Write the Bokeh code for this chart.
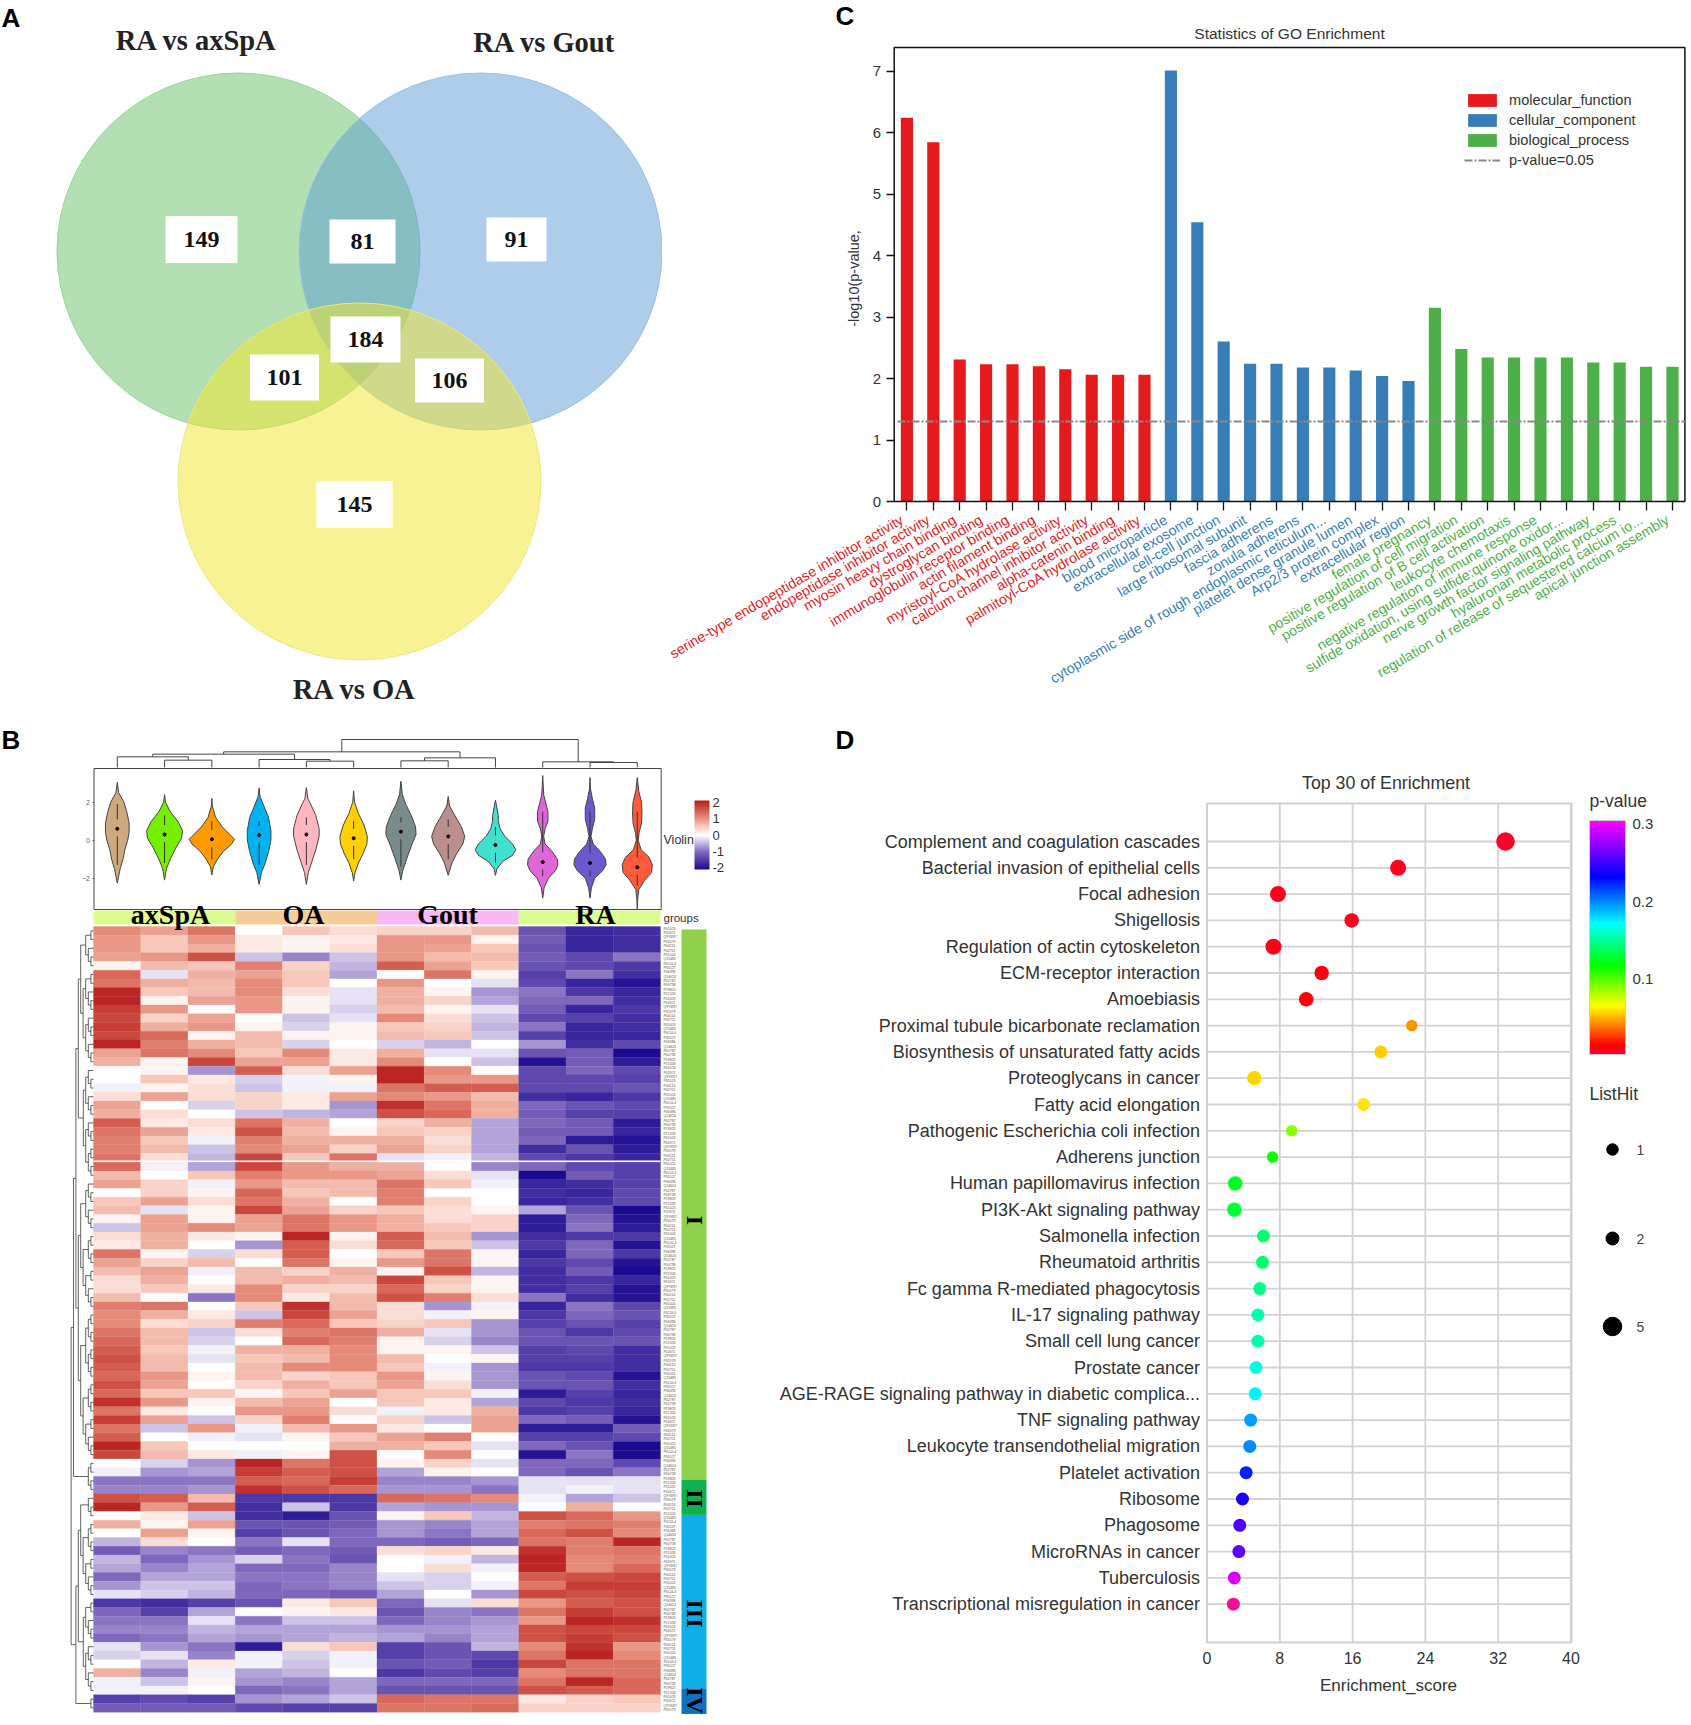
import numpy as np
from bokeh.plotting import figure
from bokeh.layouts import column, row
from bokeh.embed import file_html
from bokeh.resources import INLINE
from bokeh.core.properties import value
from bokeh.models import (Range1d, FixedTicker, ColumnDataSource, ColorBar, LinearAxis,
                          LinearColorMapper, Legend, LegendItem)
from bokeh.transform import transform

# ---------- Panel A data ----------
venn_names = ["RA vs axSpA", "RA vs Gout", "RA vs OA"]
venn_counts = [149, 81, 91, 184, 101, 106, 145]

# ---------- Panel B data ----------
sample_groups = ["axSpA", "OA", "Gout", "RA"]
group_colors = ["#dcfb90", "#f6cd98", "#f9b8f6", "#dcfb90"]
violin_colors = ["#cdaa7d", "#76ee00", "#ff9a00", "#00b2ee", "#ffb6c1", "#ffd000",
                 "#7a8b8b", "#bc8f8f", "#40e0d0", "#df66d8", "#6a5acd", "#ff5a3c"]
violin_profiles = [
    [(3.05, 0), (2.5, .03), (2.0, .14), (1.5, .2), (.9, .25), (.4, .25), (0, .22), (-.5, .16), (-1, .12), (-1.5, .06), (-2.26, 0)],
    [(2.4, 0), (2.0, .02), (1.5, .12), (1.0, .28), (.5, .38), (.1, .36), (-.4, .24), (-1, .12), (-1.5, .04), (-2.1, 0)],
    [(2.2, 0), (1.8, .01), (1.2, .08), (.7, .22), (.3, .38), (.05, .48), (-.2, .42), (-.6, .24), (-1.0, .12), (-1.4, .03), (-1.83, 0)],
    [(2.75, 0), (2.3, .02), (1.8, .1), (1.2, .2), (.5, .25), (0, .25), (-.6, .2), (-1.2, .13), (-1.7, .05), (-2.33, 0)],
    [(2.77, 0), (2.2, .03), (1.9, .09), (1.3, .2), (.6, .27), (.2, .27), (-.5, .2), (-1.1, .12), (-1.7, .04), (-2.33, 0)],
    [(2.6, 0), (2.0, .02), (1.4, .1), (.8, .22), (.2, .29), (-.2, .28), (-.7, .2), (-1.2, .1), (-1.7, .03), (-2.15, 0)],
    [(3.1, 0), (2.4, .03), (1.9, .1), (1.3, .22), (.7, .31), (.3, .32), (-.3, .22), (-1, .12), (-1.6, .04), (-2.1, 0)],
    [(2.3, 0), (1.8, .03), (1.3, .14), (.7, .28), (.2, .35), (-.2, .31), (-.7, .18), (-1.2, .08), (-1.85, 0)],
    [(2.1, 0), (1.7, .03), (1.3, .06), (1.0, .06), (.6, .1), (.2, .2), (-.2, .36), (-.5, .43), (-.8, .36), (-1.1, .16), (-1.5, .03), (-1.85, 0)],
    [(3.4, 0), (2.4, .02), (2, .06), (1.5, .11), (1, .11), (.6, .05), (.2, .02), (-.2, .05), (-.6, .2), (-1, .31), (-1.3, .32), (-1.6, .27), (-2, .12), (-2.5, .03), (-3.05, 0)],
    [(3.3, 0), (2.7, .01), (2.2, .05), (1.7, .1), (1.1, .1), (.6, .05), (.2, .02), (-.2, .07), (-.6, .22), (-1, .33), (-1.3, .34), (-1.6, .27), (-2, .1), (-2.5, .03), (-3.05, 0)],
    [(3.3, 0), (2.6, .03), (2.0, .09), (1.5, .1), (.9, .09), (.4, .04), (0, .02), (-.5, .08), (-.9, .25), (-1.3, .32), (-1.7, .3), (-2.1, .16), (-2.6, .03), (-3.1, .01), (-3.65, 0)],
]
violin_means = [.6, .3, .05, .27, .3, .1, .45, .2, -.25, -1.15, -1.2, -1.42]
violin_hi = [1.9, 1.3, 1.0, 1.0, 1.2, 1.0, 1.2, 1.1, .7, 1.5, 1.5, 1.5]
violin_lo = [-1.3, -1.2, -1.0, -1.3, -1.3, -1.0, -1.4, -1.0, -1.2, -1.9, -1.9, -2.4]
# (left, right, height); ids >= 12 refer to earlier merges
col_merges = [(1, 2, 22), (0, 12, 32), (4, 5, 19), (3, 14, 24), (13, 15, 40), (6, 7, 20),
              (17, 8, 29), (16, 18, 47), (10, 11, 15), (9, 20, 17), (19, 21, 84)]
heat_rows = [
    [1.0, 0.8, 1.2, 0.0, 0.5, 0.3, 0.4, 0.4, 0.6, -1.2, -1.7, -1.6],
    [0.9, 0.5, 0.9, 0.2, 0.1, 0.2, 0.9, 0.9, 0.1, -1.1, -1.7, -1.6],
    [0.9, 0.5, 0.7, 0.2, 0.1, 0.3, 0.9, 0.8, 0.5, -1.2, -1.7, -1.6],
    [0.8, 0.9, 1.5, -0.4, -0.8, -0.4, 0.9, 0.6, 0.6, -1.1, -1.3, -0.9],
    [0.1, 0.6, 0.5, 1.1, 0.4, -0.5, 1.4, 0.8, 0.5, -1.2, -1.3, -1.5],
    [1.3, -0.2, 0.7, 0.8, 0.5, -0.6, 0.0, 1.2, 0.1, -1.4, -0.9, -1.6],
    [1.2, 0.7, 0.6, 1.0, 0.5, 0.0, 0.9, 0.0, -0.2, -1.3, -1.7, -1.9],
    [1.9, 0.5, 0.6, 1.0, 0.3, -0.2, 0.7, 0.1, -0.7, -0.9, -1.5, -1.7],
    [1.9, 0.1, 0.8, 0.9, 0.1, -0.2, 0.7, 0.4, -0.6, -1.0, -1.0, -1.6],
    [1.7, 0.9, 0.0, 0.9, 0.1, -0.3, 0.6, 0.1, -0.2, -1.1, -1.7, -1.5],
    [1.6, 0.4, 0.8, 0.0, -0.4, -0.2, 1.0, 0.3, -0.4, -1.3, -1.4, -1.6],
    [1.7, 0.7, 0.9, 0.1, -0.3, 0.1, 0.5, 0.4, -0.5, -0.9, -1.7, -1.6],
    [1.6, 1.3, 0.1, 0.6, 0.1, 0.1, 0.6, 0.5, -0.4, -1.4, -1.7, -1.7],
    [1.9, 1.1, 0.7, 0.6, -0.3, 0.0, -0.3, -0.5, 0.0, -0.7, -1.6, -1.3],
    [0.8, 1.2, 1.0, 0.5, 1.0, 0.2, 0.7, -0.2, -0.2, -1.2, -1.1, -2.0],
    [0.7, 0.1, 1.6, 0.8, 0.8, 0.2, 1.0, 0.0, -0.4, -1.9, -1.1, -1.8],
    [0.0, 0.1, -0.7, 1.4, 0.3, 0.8, 1.9, 1.0, 0.0, -1.3, -1.0, -1.3],
    [0.0, 0.5, 0.2, -0.3, -0.1, 0.1, 1.9, 0.9, 0.9, -1.3, -1.3, -1.4],
    [-0.1, 0.1, 0.3, -0.4, -0.1, -0.1, 1.2, 1.4, 1.4, -1.3, -1.3, -1.2],
    [0.3, 0.8, 0.3, 0.4, 0.2, 0.8, 1.0, 0.9, 0.6, -1.6, -1.7, -1.5],
    [0.8, 0.0, -0.3, 0.4, 0.2, -0.7, 1.8, 1.2, 0.7, -1.0, -1.2, -1.3],
    [0.7, 0.3, 0.0, -0.4, -0.5, -0.6, 1.5, 1.3, 0.7, -1.1, -1.4, -1.4],
    [1.4, 0.2, 0.3, 1.2, 0.7, 0.0, 0.4, 0.7, -0.6, -1.0, -1.1, -1.8],
    [1.2, 0.8, 0.2, 1.5, 0.6, 0.1, 0.5, 0.4, -0.6, -1.1, -1.1, -1.7],
    [1.1, 0.5, -0.1, 1.1, 0.7, 0.7, 0.7, 0.3, -0.6, -1.0, -1.8, -1.9],
    [1.1, 0.6, -0.4, 1.0, 0.8, 0.4, 0.8, 0.4, -0.6, -1.6, -1.2, -1.8],
    [1.2, 0.3, -0.5, 1.6, 0.5, 1.2, -0.2, -0.1, -0.5, -1.3, -1.5, -1.7],
    [1.3, -0.1, -0.6, 1.6, 0.9, 0.7, 0.7, 0.0, -0.8, -1.0, -1.3, -1.4],
    [0.6, 0.0, 0.5, 1.1, 0.9, 0.9, 0.8, 0.3, -0.2, -2.0, -1.1, -1.4],
    [0.8, 0.4, -0.1, 0.9, 0.6, 0.6, 1.2, 0.5, -0.1, -1.7, -1.6, -1.4],
    [0.0, 0.4, 0.1, 1.3, 0.5, 0.6, 1.1, 0.0, 0.0, -1.6, -1.7, -1.3],
    [0.5, 0.8, 0.3, 1.2, 0.7, 0.0, 1.1, 0.4, 0.0, -1.7, -1.6, -1.3],
    [0.6, -0.2, 0.1, 1.6, 0.8, 0.4, 0.5, 0.3, 0.1, -0.6, -1.2, -2.0],
    [0.1, 0.8, 0.1, 0.8, 1.2, 0.9, 0.7, 0.3, 0.4, -1.8, -1.0, -1.9],
    [-0.4, 0.8, 1.0, 0.8, 1.2, 0.9, 0.7, 0.5, 0.4, -1.8, -0.9, -1.8],
    [0.3, 0.7, 0.2, 0.1, 1.9, 0.1, 1.4, 0.6, -0.7, -1.6, -1.5, -1.5],
    [0.2, 0.7, 0.0, -0.7, 1.4, 0.3, 1.3, 0.5, -0.4, -1.5, -1.0, -1.9],
    [1.2, 0.1, -0.3, 0.3, 1.4, 0.0, 0.5, 1.2, 0.1, -1.7, -1.0, -1.5],
    [0.8, 0.4, 0.6, 0.0, 1.2, 0.1, 0.9, 1.2, 0.1, -1.5, -1.3, -1.9],
    [0.6, 0.8, -0.1, 0.6, 0.4, 0.7, 0.1, 1.5, -0.5, -1.6, -1.1, -2.0],
    [0.3, 0.7, 0.0, 0.6, 0.7, 0.6, 1.6, 0.5, 0.1, -1.6, -1.5, -1.7],
    [0.3, 0.5, 0.2, 1.0, 0.4, 0.4, 1.3, 0.4, 0.1, -1.6, -1.4, -1.9],
    [0.6, 0.0, -0.9, 1.0, 0.2, 0.6, 1.5, 1.1, 0.3, -0.9, -1.6, -1.9],
    [1.1, 1.2, 0.0, 0.5, 1.8, 0.6, 0.3, -0.7, -0.1, -1.7, -0.9, -1.3],
    [1.0, 0.7, 0.2, -0.4, 1.6, 0.8, 0.3, -0.1, 0.1, -1.5, -1.0, -1.2],
    [1.0, 0.3, 0.4, 1.1, 1.3, 0.5, 0.4, 0.5, -0.7, -1.4, -1.2, -1.4],
    [1.2, 0.6, -0.4, 0.3, 1.1, 1.2, 0.7, -0.2, -0.7, -1.2, -1.5, -1.3],
    [1.3, 0.6, -0.3, 0.0, 1.3, 1.1, 0.1, -0.3, -0.8, -1.2, -1.2, -1.2],
    [1.4, 0.5, -0.1, 0.7, 0.7, 1.0, 0.1, 0.1, -0.4, -1.4, -1.3, -1.6],
    [1.5, 0.6, -0.2, 0.5, 0.6, 1.0, 0.6, 0.0, 0.1, -1.4, -1.4, -1.6],
    [1.4, 0.6, 0.0, 0.6, 1.0, 1.0, 0.5, -0.1, -0.7, -1.5, -1.5, -1.6],
    [1.3, 0.9, 0.1, 0.6, 0.4, 0.5, 0.9, 0.1, -0.7, -1.2, -1.3, -1.9],
    [1.5, 0.8, 0.0, 0.4, 0.7, 0.5, 0.8, 0.3, -0.7, -1.2, -1.2, -1.6],
    [1.3, 0.5, 0.5, 0.1, 0.5, 0.8, 0.5, 0.5, -0.1, -1.8, -1.4, -1.7],
    [1.8, 0.9, 0.1, 0.6, 0.8, 0.0, 0.5, 0.2, -0.6, -1.3, -1.5, -1.6],
    [1.2, 0.2, 0.0, 0.9, 0.9, 0.3, -0.1, 0.2, 0.7, -1.5, -1.4, -1.7],
    [1.7, 0.8, -0.4, 0.4, 1.1, 0.0, 0.4, -0.4, 0.8, -1.0, -1.1, -1.9],
    [1.2, -0.4, 0.9, -0.1, 0.6, 0.9, 0.2, 0.0, 0.8, -1.8, -1.8, -1.1],
    [1.4, 0.0, -0.1, -0.2, 0.1, 0.5, 0.8, 1.1, 0.0, -1.4, -1.4, -1.3],
    [1.9, 0.5, 0.0, 0.0, 0.0, 0.7, 0.7, 0.5, -0.2, -1.0, -1.2, -2.0],
    [1.6, 0.6, 0.2, -0.1, 0.1, 1.5, 0.0, 1.0, 0.0, -1.9, -0.9, -2.0],
    [0.0, -0.3, -0.7, 1.9, 1.2, 1.5, 0.1, 0.4, -0.2, -1.0, -1.0, -1.3],
    [-0.1, -0.7, -0.6, 1.7, 1.4, 1.5, -0.6, 0.1, 0.0, -1.0, -1.2, -0.9],
    [-0.9, -0.9, -0.9, 1.4, 1.3, 1.7, -0.8, -0.8, -0.7, -0.2, -0.2, -0.2],
    [-0.8, -0.8, -0.7, 1.8, 1.5, 1.3, -0.7, -0.7, -0.9, -0.2, -0.1, -0.2],
    [1.5, 1.4, 0.6, -1.5, -1.5, -1.5, 1.3, 1.2, 1.0, -0.1, -0.6, -0.4],
    [1.9, 0.9, 1.4, -1.6, -0.4, -1.5, -0.6, -0.7, -0.7, 0.0, 0.7, 0.0],
    [0.0, 0.2, -0.4, -1.6, -1.8, -1.2, 0.1, 0.5, -0.5, 1.5, 1.3, 0.9],
    [0.7, 0.1, 0.8, -1.2, -1.2, -1.1, -0.7, -0.8, -0.6, 1.1, 1.2, 1.1],
    [0.0, 0.8, 0.1, -1.4, -1.2, -1.0, -0.7, -0.9, -0.6, 1.3, 1.5, 1.0],
    [-0.5, 0.3, 0.0, -0.9, -0.2, -1.0, -1.0, -1.1, -1.0, 1.2, 1.1, 1.9],
    [-1.1, -0.8, -0.9, -1.1, -1.0, -1.1, 0.3, 0.4, 0.2, 1.8, 1.1, 1.2],
    [-0.5, -1.0, -0.7, -0.3, -0.9, -1.2, 0.0, -0.1, -0.5, 1.9, 1.0, 1.1],
    [-0.6, -0.8, -0.6, -1.0, -1.0, -0.8, 0.0, 0.3, -0.1, 1.9, 1.0, 1.3],
    [-1.0, -0.6, -0.6, -0.9, -0.9, -0.8, -0.2, -0.3, 0.0, 1.4, 1.5, 1.6],
    [-0.7, -0.4, -0.4, -1.0, -0.9, -0.8, -0.4, -0.3, -0.1, 1.2, 1.7, 1.7],
    [-0.2, -0.3, -0.5, -1.0, -1.0, -1.1, -0.6, 0.0, -0.7, 1.6, 1.5, 1.6],
    [-1.5, -1.6, -1.4, -1.2, 0.2, 0.5, -1.0, -0.2, 0.3, 0.9, 1.4, 1.5],
    [-1.0, -1.4, -0.6, 0.0, 0.1, 0.2, -1.2, -0.8, -0.9, 1.2, 1.7, 1.5],
    [-0.9, -0.9, -0.2, -0.9, -0.4, -0.4, -1.0, -0.8, -0.7, 0.9, 1.9, 1.8],
    [-0.8, -0.8, -0.5, -0.6, -0.6, -0.6, -0.7, -0.7, -0.6, 1.5, 1.6, 1.6],
    [-1.0, -0.9, -0.6, -0.7, -0.6, -0.5, -0.6, -0.8, -0.6, 1.5, 1.7, 1.5],
    [-0.2, -0.7, -0.9, -1.8, 0.3, 0.5, -1.4, -1.2, -0.5, 1.0, 1.8, 0.9],
    [-0.3, -0.2, -0.8, -0.1, -0.3, -0.1, -1.4, -1.2, -1.3, 1.2, 1.9, 1.0],
    [0.0, -0.5, 0.2, -0.1, -0.4, -0.1, -1.2, -1.1, -1.5, 1.6, 1.2, 1.2],
    [0.7, -0.8, -0.1, -0.6, -0.5, 0.0, -1.5, -1.3, -1.4, 1.0, 1.2, 1.2],
    [-0.1, -0.4, 0.1, -0.7, -0.8, -0.6, -1.0, -1.0, -1.0, 1.2, 1.9, 1.3],
    [-0.1, -0.1, 0.0, -1.0, -0.9, -0.6, -1.2, -1.2, -1.2, 1.5, 1.4, 1.3],
    [-1.4, -1.3, -1.4, -0.7, -0.6, -0.4, 1.3, 1.2, 1.2, 0.2, 0.4, 0.5],
    [-1.1, -1.1, -1.1, -1.3, -1.4, -1.4, 1.2, 1.2, 1.3, 0.4, 0.4, 0.4],
]
row_ids = ["P01023", "P02671", "Q9Y6R7", "P35579", "P04114", "P02751", "P01024", "Q15485",
           "P0C0L4", "P35527", "P06396", "Q14624", "P02787", "P00738", "P19823", "P21333"]
cluster_names = ["I", "II", "III", "IV"]
cluster_spans = [(0.35, 63.35), (63.35, 67.4), (67.4, 87.3), (87.3, 90.2)]
cluster_colors = ["#8fd14b", "#12ae52", "#0daeea", "#1070c2"]
row_tree = (((((5, 11), (6, 7)), ((6, 9), (8, 9))), 4), (((3, 9), (5, 6)), 2))

# ---------- Panel C data ----------
go_terms = ["serine-type endopeptidase inhibitor activity", "endopeptidase inhibitor activity",
            "myosin heavy chain binding", "dystroglycan binding", "immunoglobulin receptor binding",
            "actin filament binding", "myristoyl-CoA hydrolase activity", "calcium channel inhibitor activity",
            "alpha-catenin binding", "palmitoyl-CoA hydrolase activity",
            "blood microparticle", "extracellular exosome", "cell-cell junction", "large ribosomal subunit",
            "fascia adherens", "zonula adherens", "cytoplasmic side of rough endoplasmic reticulum...",
            "platelet dense granule lumen", "Arp2/3 protein complex", "extracellular region",
            "female pregnancy", "positive regulation of cell migration", "positive regulation of B cell activation",
            "leukocyte chemotaxis", "negative regulation of immune response",
            "sulfide oxidation, using sulfide:quinone oxidor...", "nerve growth factor signaling pathway",
            "hyaluronan metabolic process", "regulation of release of sequestered calcium io...",
            "apical junction assembly"]
go_values = [6.24, 5.84, 2.31, 2.23, 2.23, 2.2, 2.15, 2.06, 2.06, 2.06,
             7.01, 4.54, 2.6, 2.24, 2.24, 2.18, 2.18, 2.13, 2.04, 1.96,
             3.15, 2.48, 2.34, 2.34, 2.34, 2.34, 2.26, 2.26, 2.19, 2.19]
go_classes = ["molecular_function", "cellular_component", "biological_process"]
go_class_colors = ["#e41a1c", "#377eb8", "#4daf4a"]
go_threshold = 1.3

# ---------- Panel D data ----------
pathways = ["Complement and coagulation cascades", "Bacterial invasion of epithelial cells", "Focal adhesion",
            "Shigellosis", "Regulation of actin cytoskeleton", "ECM-receptor interaction", "Amoebiasis",
            "Proximal tubule bicarbonate reclamation", "Biosynthesis of unsaturated fatty acids",
            "Proteoglycans in cancer", "Fatty acid elongation", "Pathogenic Escherichia coli infection",
            "Adherens junction", "Human papillomavirus infection", "PI3K-Akt signaling pathway",
            "Salmonella infection", "Rheumatoid arthritis", "Fc gamma R-mediated phagocytosis",
            "IL-17 signaling pathway", "Small cell lung cancer", "Prostate cancer",
            "AGE-RAGE signaling pathway in diabetic complica...", "TNF signaling pathway",
            "Leukocyte transendothelial migration", "Platelet activation", "Ribosome", "Phagosome",
            "MicroRNAs in cancer", "Tuberculosis", "Transcriptional misregulation in cancer"]
enrich = [32.8, 21.0, 7.8, 15.9, 7.3, 12.6, 10.9, 22.5, 19.1, 5.2, 17.2, 9.3, 7.2, 3.1, 3.0,
          6.2, 6.1, 5.8, 5.6, 5.6, 5.4, 5.3, 4.8, 4.7, 4.3, 3.9, 3.6, 3.5, 3.0, 2.9]
pvals = [.006, .008, .010, .010, .010, .012, .013, .045, .055, .057, .06, .09, .115, .125, .13,
         .14, .142, .148, .155, .155, .165, .175, .195, .2, .225, .24, .255, .26, .295, .32]
listhit = [5, 4, 4, 3, 4, 3, 3, 1, 2, 3, 2, 1, 1, 3, 3, 2, 2, 2, 2, 2, 2, 2, 2, 2, 2, 2, 2, 2, 2, 2]
hit_legend = [1, 2, 5]
enrich_ticks = [0, 8, 16, 24, 32, 40]


def make_palette(anchors, n=256):
    pos = np.array([a[0] for a in anchors], float)
    rgb = np.array([[int(a[1][i:i + 2], 16) for i in (1, 3, 5)] for a in anchors], float)
    t = np.linspace(pos[0], pos[-1], n)
    cols = np.stack([np.interp(t, pos, rgb[:, k]) for k in range(3)], 1).round().astype(int)
    return ["#%02x%02x%02x" % tuple(c) for c in cols]


def make_fig(w, h, xr, yr, **kw):
    p = figure(width=w, height=h, min_border=0, x_range=Range1d(*xr), y_range=Range1d(*yr),
               toolbar_location=None, tools="", output_backend="svg", frame_align=False, **kw)
    p.grid.visible = False
    p.outline_line_color = None
    return p


SANS, SERIF = "Liberation Sans", "Liberation Serif"


def put_text(p, x, y, txt, size, font=SANS, style="normal", color="#333333", align="left", angle=0.0):
    p.text(x=[x], y=[y], text=[txt], text_font=value(font), text_font_style=style, text_font_size=size,
           text_color=color, text_align=align, text_baseline="middle", angle=angle)


# ================= Panel A =================
pa = make_fig(662, 725, (0, 662), (725, 0), x_axis_location=None, y_axis_location=None)
circle_cx, circle_cy = [238, 480, 359], [251, 251, 481]
for cx, cy, c, lc in zip(circle_cx, circle_cy, ["#66c166", "#5b9bd5", "#f4e62a"], ["#9fd09f", "#9cc0e2", "#efe680"]):
    pa.ellipse(x=[cx], y=[cy], width=363, height=357, fill_color=c, fill_alpha=0.5, line_color=lc, line_width=1)
box_x, box_y = [201, 362, 516, 365, 284, 449, 354], [239, 241, 239, 339, 377, 380, 504]
box_w, box_h = [72, 66, 60, 70, 69, 69, 76], [47, 44, 44, 46, 46, 44, 47]
pa.rect(x=box_x, y=box_y, width=box_w, height=box_h, fill_color="white", line_color=None)
pa.text(x=box_x, y=box_y, text=[str(v) for v in venn_counts], text_align="center", text_baseline="middle",
        text_font=value(SERIF), text_font_style="bold", text_font_size="24px", text_color="#111111")
pa.text(x=[196, 544, 354], y=[40, 42, 689], text=venn_names, text_align="center", text_baseline="middle",
        text_font=value(SERIF), text_font_style="bold", text_font_size="28.5px", text_color="#222222")
put_text(pa, 1, 17, "A", "26px", style="bold", color="black")

# ================= Panel B =================
cw2, rh = 47.25, 8.73
hx = lambda px: (px - 93) / cw2
hy = lambda py: (py - 926) / rh
vcx = lambda i: hx(116.8 + 47.27 * i)      # violin index -> column units
ph = make_fig(770, 992, (hx(0), hx(770)), (hy(1717), hy(725)), x_axis_location=None, y_axis_location=None)
ph.extra_y_ranges = {"v": Range1d((839.7 - 1717) / 19, (839.7 - 725) / 19)}
# dendrogram over the violins
nodes = {i: (float(i), 0.0) for i in range(12)}
dx, dy = [], []
for k, (l, r, h) in enumerate(col_merges):
    (xl, hl), (xr_, hr) = nodes[l], nodes[r]
    dx.append([vcx(xl), vcx(xl), vcx(xr_), vcx(xr_)])
    dy.append([hy(767 - hl / 3), hy(767 - h / 3), hy(767 - h / 3), hy(767 - hr / 3)])
    nodes[12 + k] = ((xl + xr_) / 2, float(h))
ph.multi_line(xs=dx, ys=dy, line_color="#444444", line_width=1)
put_text(ph, hx(1), hy(739), "B", "26px", style="bold", color="black")
# violin box
ph.quad(left=[hx(93.5)], right=[hx(660.7)], top=[hy(768)], bottom=[hy(909)], fill_color=None, line_color="#444444", line_width=1)
vaxis = LinearAxis(y_range_name="v", fixed_location=hx(93.5), ticker=FixedTicker(ticks=[-2, 0, 2]),
                   major_label_text_font_size="7px", major_label_text_color="#666666", axis_line_color=None,
                   major_tick_line_color="#666666", major_tick_out=2, major_tick_in=0, minor_tick_line_color=None,
                   major_label_standoff=2)
ph.add_layout(vaxis, "left")
for i, prof in enumerate(violin_profiles):
    ys = [q[0] for q in prof]
    ws = [q[1] for q in prof]
    px = [vcx(i + w) for w in ws] + [vcx(i - w) for w in ws[::-1]]
    py = ys + ys[::-1]
    ph.patch(px, py, y_range_name="v", fill_color=violin_colors[i], line_color="#444444", line_width=1)
    ph.segment(x0=[vcx(i)] * 2, y0=[violin_means[i] + .5, violin_means[i] - .4], x1=[vcx(i)] * 2,
               y1=[violin_hi[i], violin_lo[i]], y_range_name="v", line_color="#333333", line_width=1)
ph.scatter(x=[vcx(i) for i in range(12)], y=violin_means, y_range_name="v", size=3, color="black")

heat_pal = make_palette([(-2, "#1c0a90"), (-1, "#7e66bb"), (-.5, "#c0b4e0"), (0, "#ffffff"),
                         (.5, "#f7c8ba"), (1, "#e58b7a"), (1.5, "#cf5346"), (2, "#b61c1c")])
heat_map = LinearColorMapper(palette=heat_pal, low=-2, high=2)
legend_map = LinearColorMapper(palette=heat_pal, low=-2.1, high=2.1)
cbv = ColorBar(color_mapper=legend_map, location=(694, 848), width=15, height=69,
               ticker=FixedTicker(ticks=[-2, -1, 0, 1, 2]), major_tick_line_color=None, bar_line_color=None,
               major_label_overrides={-2: "-2", -1: "-1"},
               major_label_text_font=SANS, major_label_text_font_size="13px", major_label_text_color="#333333",
               label_standoff=3, padding=0, background_fill_color=None, border_line_color=None, margin=0)
ph.add_layout(cbv)
put_text(ph, hx(663), hy(839), "Violin", "12.5px")

nrows = len(heat_rows)
xx, yy, vv = [], [], []
for r, vals in enumerate(heat_rows):
    for c, v in enumerate(vals):
        xx.append(c + .5)
        yy.append(r + .5)
        vv.append(v)
hsrc = ColumnDataSource(dict(x=xx, y=yy, v=vv))
ph.rect("x", "y", width=1, height=1, source=hsrc, fill_color=transform("v", heat_map),
        line_color=transform("v", heat_map), line_width=0.3)
ph.segment(x0=[0], x1=[12], y0=[hy(1160.7)], y1=[hy(1160.7)], line_color="white", line_width=1.4)
# annotation strip
ph.quad(left=[0, 3, 6, 9], right=[3, 6, 9, 12], top=[hy(910)] * 4, bottom=[hy(924)] * 4,
        fill_color=group_colors, line_color=None)
ph.text(x=[hx(170), hx(303), hx(447), hx(595)], y=[hy(914)] * 4, text=sample_groups, text_align="center",
        text_baseline="middle", text_font=value(SERIF), text_font_style="bold", text_font_size="28px", text_color="black")
put_text(ph, hx(663), hy(917), "groups", "11.5px")
# gene labels
lab_y = [i / 2 + .25 for i in range(nrows * 2)]
lab_t = [row_ids[i % len(row_ids)] for i in range(nrows * 2)]
ph.text(x=[hx(663)] * len(lab_y), y=lab_y, text=lab_t, text_baseline="middle", text_font=value(SANS),
        text_font_size="3.5px", text_color="#555555")
# cluster bar
ph.quad(left=[hx(681)] * 4, right=[hx(706)] * 4, top=[s[0] for s in cluster_spans], bottom=[s[1] for s in cluster_spans],
        fill_color=cluster_colors, line_color=None)
ph.text(x=[hx(694)] * 4, y=[hy(1220), hy(1498), hy(1613), hy(1700)], text=cluster_names, angle=-np.pi / 2,
        text_align="center", text_baseline="middle", text_font=value(SERIF), text_font_style="bold",
        text_font_size="24px", text_color="black")
# row dendrogram
rx, ry = [], []


def ladder(y0, n):
    if n == 1:
        return y0 + .5, 93.0
    a = n // 2
    ya, xa = ladder(y0, a)
    yb, xb = ladder(y0 + a, n - a)
    x = min(xa, xb) - 2.6
    rx.append([hx(xa), hx(x), hx(x), hx(xb)])
    ry.append([ya, ya, yb, yb])
    return (ya + yb) / 2, x


cursor = [0]


def walk(node):
    if isinstance(node, int):
        y, x = ladder(cursor[0], node)
        cursor[0] += node
        return y, x
    ya, xa = walk(node[0])
    yb, xb = walk(node[1])
    x = min(xa, xb) - 2.4
    rx.append([hx(xa), hx(x), hx(x), hx(xb)])
    ry.append([ya, ya, yb, yb])
    return (ya + yb) / 2, x


walk(row_tree)
ph.multi_line(xs=rx, ys=ry, line_color="#3a3a3a", line_width=0.8)

# ================= Panel C =================
xc = lambda px: (px - 906.4) / 26.4
yc = lambda py: (501 - py) / 61.5
pc = make_fig(1029, 725, (xc(662), xc(1691)), (yc(725), yc(0)))
pc.xaxis.fixed_location = 0
pc.yaxis.fixed_location = xc(893.7)
pc.xaxis.ticker = FixedTicker(ticks=list(range(30)))
pc.xaxis.major_label_overrides = {i: "" for i in range(30)}
pc.yaxis.ticker = FixedTicker(ticks=list(range(8)))
for ax, out in ((pc.xaxis, 9), (pc.yaxis, 8)):
    ax.axis_line_color = None
    ax.major_tick_line_color = "#111111"
    ax.major_tick_line_width = 1.3
    ax.major_tick_out, ax.major_tick_in = out, 0
    ax.minor_tick_line_color = None
pc.yaxis.major_label_text_font = SANS
pc.yaxis.major_label_text_font_size = "15px"
pc.yaxis.major_label_text_color = "#333333"
items = []
for k, (name, col) in enumerate(zip(go_classes, go_class_colors)):
    idx = list(range(k * 10, k * 10 + 10))
    r = pc.vbar(x=idx, top=[go_values[i] for i in idx], width=0.46, fill_color=col, line_color=None)
    items.append(LegendItem(label=name, renderers=[r]))
pc.quad(left=[xc(893.7)], right=[xc(1684.4)], top=[yc(47)], bottom=[0], fill_color=None, line_color="#111111", line_width=1.5)
ln = pc.line(x=[xc(897), xc(1684.4)], y=[go_threshold] * 2, line_color="#888888", line_width=2, line_dash="8 2 2 2")
items.append(LegendItem(label="p-value=0.05", renderers=[ln]))
leg = Legend(items=items, location=(802, 557), border_line_color=None, background_fill_color=None,
             background_fill_alpha=0, label_text_font=SANS, label_text_font_size="14.6px", label_text_color="#333333",
             glyph_width=36, glyph_height=16, label_height=16, spacing=4, label_standoff=9, padding=0, margin=0)
pc.add_layout(leg, "center")
pc.text(x=list(range(30)), y=[0] * 30, text=go_terms, text_color=[go_class_colors[i // 10] for i in range(30)],
        angle=30.5, angle_units="deg", text_align="right", text_baseline="middle", y_offset=17, x_offset=-5,
        text_font=value(SANS), text_font_size="14.2px")
put_text(pc, xc(1289), yc(33), "Statistics of GO Enrichment", "15.5px", align="center")
put_text(pc, xc(853), yc(278), "-log10(p-value,", "14.5px", align="center", angle=np.pi / 2)
put_text(pc, xc(835), yc(15), "C", "26px", style="bold", color="black")

# ================= Panel D =================
xd = lambda px: (px - 1206.5) / 9.1
yd = lambda py: (py - 841) / 26.3
pD = make_fig(921, 992, (xd(770), xd(1691)), (yd(1717), yd(725)))
pD.xaxis.fixed_location = yd(1642)
pD.yaxis.fixed_location = 0
pD.xaxis.ticker = FixedTicker(ticks=enrich_ticks)
pD.yaxis.ticker = FixedTicker(ticks=list(range(30)))
pD.yaxis.major_label_overrides = {i: t for i, t in enumerate(pathways)}
for ax in (pD.xaxis, pD.yaxis):
    ax.axis_line_color = None
    ax.major_tick_line_color = None
    ax.minor_tick_line_color = None
    ax.major_label_text_font = SANS
    ax.major_label_text_color = "#333333"
pD.yaxis.major_label_text_font_size = "18px"
pD.yaxis.major_label_standoff = 1
pD.xaxis.major_label_text_font_size = "16px"
pD.xaxis.major_label_standoff = 3
# grid limited to the plot box
pD.segment(x0=enrich_ticks, x1=enrich_ticks, y0=[yd(803)] * 6, y1=[yd(1642)] * 6, line_color="#d2d2d2", line_width=1.8)
pD.segment(x0=[0] * 30, x1=[40] * 30, y0=list(range(30)), y1=list(range(30)), line_color="#d2d2d2", line_width=1.8)
pD.quad(left=[0], right=[40.05], top=[yd(803)], bottom=[yd(1642)], fill_color=None, line_color="#cfcfcf", line_width=2)
p_anchors = [(.003, "#ff0033"), (.015, "#ff0000"), (.065, "#ffff00"), (.118, "#00ff00"), (.172, "#00ffff"),
             (.233, "#0000ff"), (.305, "#ff00ff")]
p_pal = make_palette(p_anchors)
p_map = LinearColorMapper(palette=p_pal, low=.003, high=.305, high_color="#f2109a")
hit_x, hit_s = [1, 2, 3, 4, 5], [11.5, 13, 14.5, 16, 18.5]
sizes = [float(np.interp(h, hit_x, hit_s)) for h in listhit]
dsrc = ColumnDataSource(dict(x=enrich, y=list(range(30)), p=pvals, s=sizes))
pD.scatter("x", "y", size="s", source=dsrc, fill_color=transform("p", p_map), line_color=None)
cbd = ColorBar(color_mapper=LinearColorMapper(palette=p_pal, low=.003, high=.305), location=(819, 663), width=36, height=234,
               ticker=FixedTicker(ticks=[.1, .2, .3]), major_tick_line_color=None, bar_line_color="#cccccc",
               major_label_text_font=SANS, major_label_text_font_size="15px", major_label_text_color="#333333",
               label_standoff=7, padding=0, background_fill_color=None, border_line_color=None, margin=0)
pD.add_layout(cbd)
put_text(pD, xd(1388), yd(782), "Top 30 of  Enrichment", "17.8px", align="center")
put_text(pD, xd(1388), yd(1685), "Enrichment_score", "17px", align="center")
put_text(pD, xd(1589), yd(800), "p-value", "17.5px")
put_text(pD, xd(1589), yd(1093), "ListHit", "17.5px")
put_text(pD, xd(835), yd(739), "D", "26px", style="bold", color="black")
leg_y = [1149, 1238, 1326]
pD.scatter(x=[xd(1612)] * 3, y=[yd(v) for v in leg_y],
           size=[float(np.interp(h, hit_x, hit_s)) for h in hit_legend], color="black")
pD.text(x=[xd(1636)] * 3, y=[yd(v) for v in leg_y], text=[str(h) for h in hit_legend], text_font=value(SANS),
        text_font_size="14px", text_color="#444444", text_baseline="middle")

page = column(row(pa, pc, spacing=0), row(ph, pD, spacing=0), spacing=0)
open("out.html", "w").write(file_html(page, INLINE))
